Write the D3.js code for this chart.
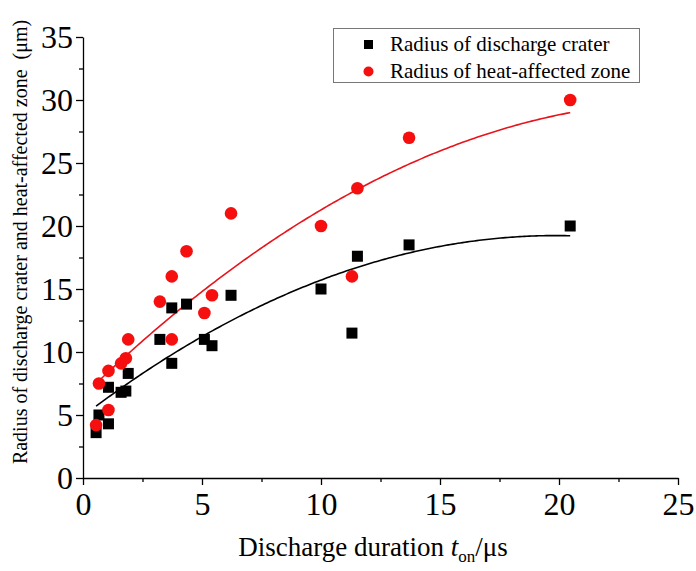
<!DOCTYPE html>
<html>
<head>
<meta charset="utf-8">
<script src="https://cdn.jsdelivr.net/npm/d3@7"></script>
<style>
  body { margin: 0; background: #fff; }
  svg text { font-family: "Liberation Serif", "Times New Roman", serif; }
</style>
</head>
<body>
<div id="chart"></div>
<script>
// discharge duration (us) for each measurement
var duration = [0.55, 0.67, 1.07, 1.07, 1.6, 1.8, 1.9, 3.23, 3.73, 3.73, 4.35, 5.1, 5.42, 6.22, 10.0, 11.3, 11.53, 13.7, 20.47];
var craterRadius = [3.6, 5.0, 4.3, 7.2, 6.8, 6.9, 8.3, 11.0, 9.1, 13.5, 13.8, 11.0, 10.5, 14.5, 15.0, 11.5, 17.6, 18.5, 20.0];
var heatRadius = [4.2, 7.5, 5.4, 8.5, 9.1, 9.5, 11.0, 14.0, 11.0, 16.0, 18.0, 13.1, 14.5, 21.0, 20.0, 16.0, 23.0, 27.0, 30.0];

// quadratic fit coefficients [c, b, a]
var craterFit = [4.918, 1.442, -0.0363];
var heatFit = [6.499, 1.8394, -0.03616];
var fitRange = [0.55, 20.47];

var xTicks = [0, 5, 10, 15, 20, 25];
var yTicks = [0, 5, 10, 15, 20, 25, 30, 35];
var seriesNames = ["Radius of discharge crater", "Radius of heat-affected zone"];

var width = 696, height = 571;

var svg = d3.select("#chart").append("svg")
    .attr("width", width)
    .attr("height", height);

var x = d3.scaleLinear().domain([0, 25]).range([83, 678]);
var y = d3.scaleLinear().domain([0, 35]).range([478, 37]);

// minor ticks
svg.append("g")
    .attr("transform", "translate(0," + y(0) + ")")
    .call(d3.axisBottom(x).tickValues(d3.range(2.5, 25, 5)).tickSize(4).tickFormat(""))
    .call(function(g){ g.select(".domain").remove(); });
svg.append("g")
    .attr("transform", "translate(" + x(0) + ",0)")
    .call(d3.axisLeft(y).tickValues(d3.range(2.5, 35, 5)).tickSize(4).tickFormat(""))
    .call(function(g){ g.select(".domain").remove(); });

// major axes
var xAxis = svg.append("g")
    .attr("transform", "translate(0," + y(0) + ")")
    .call(d3.axisBottom(x).tickValues(xTicks).tickSize(7).tickSizeOuter(0).tickPadding(4));
xAxis.selectAll("text").attr("font-size", 32).attr("dy", "0.8em");

var yAxis = svg.append("g")
    .attr("transform", "translate(" + x(0) + ",0)")
    .call(d3.axisLeft(y).tickValues(yTicks).tickSize(7).tickSizeOuter(0).tickPadding(3));
yAxis.selectAll("text").attr("font-size", 32);

[xAxis, yAxis].forEach(function(g){
    g.attr("font-family", "Liberation Serif, Times New Roman, serif");
    g.selectAll("text").style("font-family", "'Liberation Serif', 'Times New Roman', serif");
});

svg.selectAll(".domain, .tick line").attr("stroke", "#000").attr("stroke-width", 1.3);
svg.selectAll(".tick text").attr("fill", "#000");

// fitted curves
function quad(c) { return function(t){ return c[0] + c[1] * t + c[2] * t * t; }; }
var samples = d3.range(fitRange[0], fitRange[1], 0.1).concat([fitRange[1]]);
var line = d3.line().x(function(d){ return x(d[0]); }).y(function(d){ return y(d[1]); });

[[craterFit, "#000"], [heatFit, "#e8141b"]].forEach(function(f){
    var fn = quad(f[0]);
    svg.append("path")
        .datum(samples.map(function(t){ return [t, fn(t)]; }))
        .attr("d", line)
        .attr("fill", "none")
        .attr("stroke", f[1])
        .attr("stroke-width", 1.6);
});

// data points
var sq = 11;
svg.selectAll("rect.crater")
    .data(duration)
    .enter().append("rect")
    .attr("class", "crater")
    .attr("x", function(d){ return x(d) - sq / 2; })
    .attr("y", function(d, i){ return y(craterRadius[i]) - sq / 2; })
    .attr("width", sq)
    .attr("height", sq)
    .attr("fill", "#000");

svg.selectAll("circle.heat")
    .data(duration)
    .enter().append("circle")
    .attr("class", "heat")
    .attr("cx", function(d){ return x(d); })
    .attr("cy", function(d, i){ return y(heatRadius[i]); })
    .attr("r", 6.3)
    .attr("fill", "#f50f0f");

// legend
var legend = svg.append("g");
legend.append("rect")
    .attr("x", 333.5).attr("y", 28.5)
    .attr("width", 306).attr("height", 54)
    .attr("fill", "#fff")
    .attr("stroke", "#777");
legend.append("rect")
    .attr("x", 364).attr("y", 40).attr("width", 9).attr("height", 9).attr("fill", "#000");
legend.append("circle")
    .attr("cx", 368.5).attr("cy", 71.5).attr("r", 5).attr("fill", "#f50f0f");
legend.selectAll("text")
    .data(seriesNames)
    .enter().append("text")
    .attr("x", 390)
    .attr("y", function(d, i){ return 51 + i * 27; })
    .attr("font-size", 21)
    .text(function(d){ return d; });

// axis titles
var xt = svg.append("text")
    .attr("x", 373)
    .attr("y", 556)
    .attr("text-anchor", "middle")
    .attr("font-size", 27);
xt.append("tspan").text("Discharge duration ");
xt.append("tspan").attr("font-style", "italic").text("t");
xt.append("tspan").attr("font-size", 17).attr("dy", 6).text("on");
xt.append("tspan").attr("dy", -6).text("/μs");

svg.append("text")
    .attr("transform", "translate(27,242) rotate(-90)")
    .attr("text-anchor", "middle")
    .attr("font-size", 20)
    .text("Radius of discharge crater and heat-affected zone\u00a0 (μm)");
</script>
</body>
</html>
